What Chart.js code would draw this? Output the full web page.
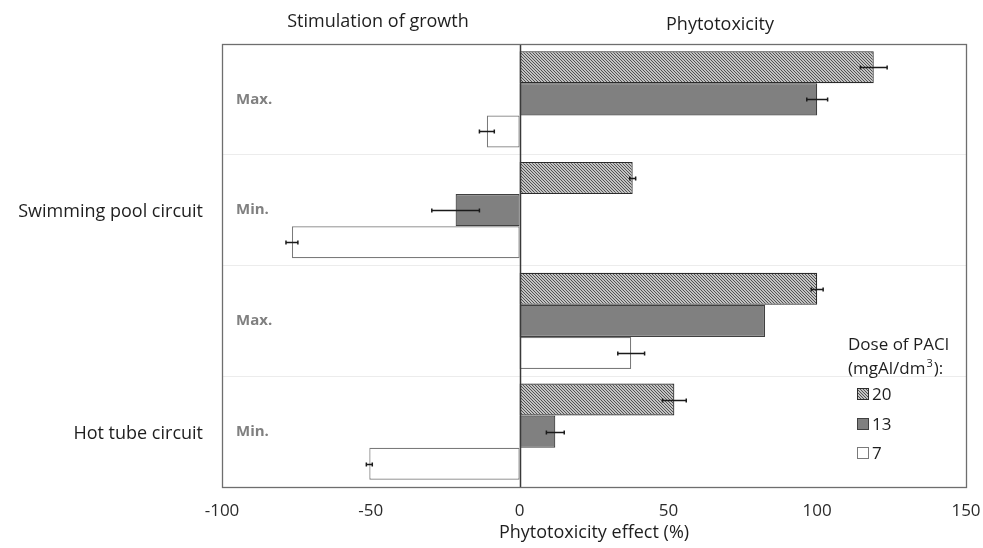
<!DOCTYPE html>
<html>
<head>
<meta charset="utf-8">
<script src="https://cdn.jsdelivr.net/npm/chart.js@4.4.1/dist/chart.umd.min.js"></script>
<style>
  html, body { margin: 0; padding: 0; background: #fff; }
  #wrap { width: 983px; height: 548px; position: relative; }
</style>
</head>
<body>
<div id="wrap"><canvas id="chart"></canvas></div>
<script>
// categories (inner level) and circuit groups (outer level)
const categories = ['Max.', 'Min.', 'Max.', 'Min.'];
const groups = ['Swimming pool circuit', 'Hot tube circuit'];
const doses = ['20', '13', '7'];

// phytotoxicity effect (%) per dose, one value per category
const dose20 = [119, 38, 100, 52];
const dose13 = [100, -21.5, 82.5, 12];
const dose7  = [-11, -76.5, 37.5, -50.5];

// error bar half-widths
const err20 = [4.5, 1, 2, 4];
const err13 = [3.5, 8, 0, 3];
const err7  = [2.5, 2, 4.5, 1];

const xTicks = [-100, -50, 0, 50, 100, 150];

const FONT = '"Open Sans", "DejaVu Sans", sans-serif';

function hatchPattern(){
  const c = document.createElement('canvas');
  c.width = 3; c.height = 3;
  const g = c.getContext('2d');
  g.fillStyle = '#f4f4f4';
  g.fillRect(0, 0, 3, 3);
  g.strokeStyle = '#4a4a4a';
  g.lineWidth = 1.1;
  g.beginPath();
  g.moveTo(-1, -1); g.lineTo(4, 4);
  g.moveTo(-1, 2); g.lineTo(1, 4);
  g.moveTo(2, -1); g.lineTo(4, 1);
  g.stroke();
  return g.createPattern(c, 'repeat');
}
const hatch = hatchPattern();

const fills = [hatch, '#808080', '#ffffff'];
const borders = ['#2b2b2b', '#404040', '#7a7a7a'];
const errs = [err20, err13, err7];

// error bars + decorations
const extras = {
  id: 'extras',
  afterDatasetsDraw(chart){
    const ctx = chart.ctx;
    const xs = chart.scales.x;
    const ys = chart.scales.y;
    const area = chart.chartArea;

    // zero line
    ctx.save();
    ctx.strokeStyle = '#3a3a3a';
    ctx.lineWidth = 1.5;
    const x0 = Math.round(xs.getPixelForValue(0)) + 0.5;
    ctx.beginPath(); ctx.moveTo(x0, area.top); ctx.lineTo(x0, area.bottom); ctx.stroke();

    // error bars
    ctx.strokeStyle = '#1a1a1a';
    ctx.lineWidth = 1.5;
    chart.data.datasets.forEach((ds, i) => {
      const meta = chart.getDatasetMeta(i);
      meta.data.forEach((bar, j) => {
        const e = errs[i][j];
        if (!e) return;
        const v = ds.data[j];
        const xa = xs.getPixelForValue(v - e);
        const xb = xs.getPixelForValue(v + e);
        const y = Math.round(bar.y) + 0.5;
        ctx.beginPath();
        ctx.moveTo(xa, y); ctx.lineTo(xb, y);
        ctx.moveTo(xa, y - 2); ctx.lineTo(xa, y + 2);
        ctx.moveTo(xb, y - 2); ctx.lineTo(xb, y + 2);
        ctx.stroke();
      });
    });

    // plot border
    ctx.strokeStyle = '#6e6e6e';
    ctx.lineWidth = 1.3;
    ctx.strokeRect(Math.round(area.left) + 0.5, Math.round(area.top) + 0.5,
                   Math.round(area.right - area.left), Math.round(area.bottom - area.top));

    // outer group labels
    ctx.fillStyle = '#1e1e1e';
    ctx.font = '18px ' + FONT;
    ctx.textAlign = 'right';
    ctx.textBaseline = 'middle';
    groups.forEach((g, k) => {
      const y = ys.getPixelForValue(k * 2 + 1);
      ctx.fillText(g, area.left - 19, y + 2);
    });

    // section titles
    ctx.textAlign = 'center';
    ctx.fillText('Stimulation of growth', 378, 22);
    ctx.fillText('Phytotoxicity', 720, 25);

    // legend
    ctx.font = '17px ' + FONT;
    ctx.textAlign = 'left';
    ctx.fillText('Dose of PACl', 848, 345);
    ctx.fillText('(mgAl/dm', 848, 369);
    let w = ctx.measureText('(mgAl/dm').width;
    ctx.font = '11px ' + FONT;
    ctx.fillText('3', 848 + w + 1, 364);
    const w3 = ctx.measureText('3').width;
    ctx.font = '17px ' + FONT;
    ctx.fillText('):', 848 + w + w3 + 2, 369);
    const ly = [394, 424, 453];
    doses.forEach((d, i) => {
      ctx.fillStyle = fills[i];
      ctx.fillRect(857, ly[i] - 6, 11, 11);
      ctx.strokeStyle = borders[i];
      ctx.lineWidth = 1;
      ctx.strokeRect(857.5, ly[i] - 5.5, 11, 11);
      ctx.fillStyle = '#1e1e1e';
      ctx.fillText(d, 872, ly[i] + 1);
    });
    ctx.restore();
  }
};

new Chart(document.getElementById('chart'), {
  type: 'bar',
  data: {
    labels: categories,
    datasets: [
      { label: doses[0], data: dose20 },
      { label: doses[1], data: dose13 },
      { label: doses[2], data: dose7 }
    ].map((d, i) => Object.assign(d, {
      backgroundColor: fills[i],
      borderColor: borders[i],
      borderWidth: 1.2,
      borderSkipped: false,
      categoryPercentage: 0.87,
      barPercentage: 1
    }))
  },
  options: {
    indexAxis: 'y',
    responsive: true,
    maintainAspectRatio: false,
    animation: false,
    layout: { padding: { left: 0, right: 17, top: 44, bottom: 0 } },
    plugins: { legend: { display: false }, tooltip: { enabled: false } },
    scales: {
      x: {
        min: -100, max: 150,
        afterBuildTicks(scale){ scale.ticks = xTicks.map(v => ({ value: v })); },
        afterFit(scale){ scale.height = 61; scale.paddingLeft = 0; scale.paddingRight = 0; },
        grid: { display: false, drawTicks: false },
        border: { display: false },
        ticks: { color: '#2a2a2a', font: { family: FONT, size: 17 }, padding: 14, maxRotation: 0 },
        title: { display: true, text: 'Phytotoxicity effect (%)', color: '#1e1e1e', font: { family: FONT, size: 18 }, padding: { top: 0 } }
      },
      y: {
        afterFit(scale){ scale.width = 222; },
        grid: { offset: true, color: '#ececec', lineWidth: 1, drawTicks: false },
        border: { display: false },
        ticks: { mirror: true, padding: 14, color: '#808080', font: { family: FONT, size: 15, weight: 'bold' } }
      }
    }
  },
  plugins: [extras]
});
</script>
</body>
</html>
